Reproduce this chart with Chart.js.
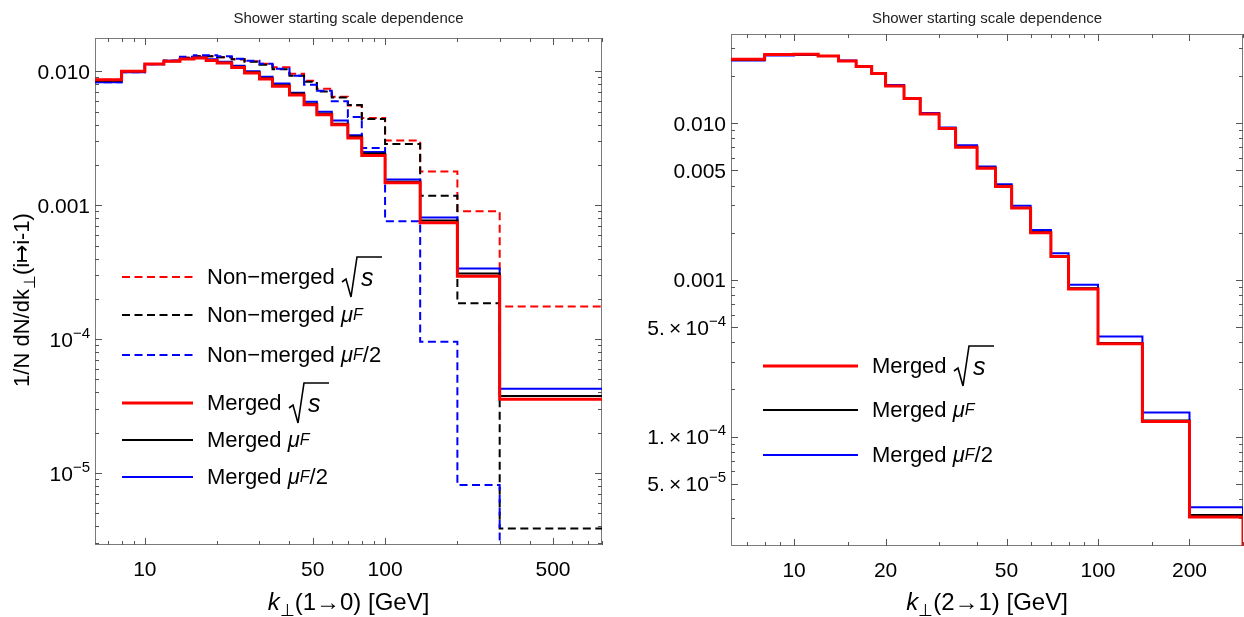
<!DOCTYPE html>
<html>
<head>
<meta charset="utf-8">
<script src="https://cdn.jsdelivr.net/npm/chart.js@4.4.1/dist/chart.umd.min.js"></script>
<style>
  body { margin: 0; background: #fff; width: 1244px; height: 617px; overflow: hidden; position: relative;
         font-family: "Liberation Sans", Arial, sans-serif; }
  canvas { position: absolute; top: 0; }
  .row { position: absolute; display: flex; align-items: center; height: 44px; white-space: nowrap;
         font-size: 22px; color: #000; }
  .row sub { font-size: 16px; vertical-align: -5px; }
  .row svg { display: block; }
</style>
</head>
<body>
<canvas id="left" width="622" height="617" style="left:0"></canvas>
<canvas id="right" width="622" height="617" style="left:622px"></canvas>
<div id="legends"></div>
<script>
// bin edges (GeV)
const edgesLeft = [6, 8, 10, 12, 14, 16, 18, 20, 23, 26, 30, 34, 40, 46, 52, 60, 70, 80, 100, 140, 200, 300, 1000];
const edgesRight = [6, 8, 10, 12, 14, 16, 18, 20, 23, 26, 30, 34, 40, 46, 52, 60, 70, 80, 100, 140, 200, 300];

// left panel: k(1->0)
const nonMergedSqrtS = [0.00867, 0.0100, 0.01136, 0.01202, 0.01265, 0.01298, 0.01298, 0.01276, 0.01233, 0.01192, 0.01141,
  0.01075, 0.00961, 0.00852, 0.00743, 0.00647, 0.00555, 0.00448, 0.00304, 0.00179, 0.000902, 0.000175];
const nonMergedMuF = [0.00860, 0.0100, 0.01136, 0.01202, 0.01265, 0.01298, 0.01298, 0.01276, 0.01233, 0.01181, 0.01122,
  0.01038, 0.00929, 0.00838, 0.00706, 0.00637, 0.00560, 0.00441, 0.00287, 0.00118, 0.000185, 0.00000385];
// last bin is empty (below the plot range)
const nonMergedHalfMuF = [0.00828, 0.00986, 0.01132, 0.01202, 0.01287, 0.01321, 0.01321, 0.01298, 0.01244, 0.01202, 0.01141,
  0.01047, 0.00929, 0.00796, 0.00718, 0.00597, 0.00457, 0.00268, 0.00076, 0.0000957, 0.00000813, 1e-9];
const mergedSqrtS = [0.00867, 0.0100, 0.01136, 0.01188, 0.01238, 0.01259, 0.01208, 0.01155, 0.01071, 0.00973, 0.00878,
  0.00773, 0.00667, 0.00564, 0.00475, 0.00400, 0.00318, 0.00235, 0.00147, 0.00074, 0.000295, 0.0000355];
const mergedMuF = [0.00852, 0.0100, 0.01136, 0.01192, 0.01238, 0.01265, 0.01212, 0.01161, 0.01084, 0.00986, 0.00890,
  0.00789, 0.00682, 0.00574, 0.00483, 0.00407, 0.00326, 0.00243, 0.00150, 0.00077, 0.000309, 0.0000376];
const mergedHalfMuF = [0.00828, 0.00986, 0.01132, 0.01202, 0.01244, 0.01276, 0.01233, 0.01181, 0.01103, 0.01003, 0.00913,
  0.00810, 0.00693, 0.00594, 0.00500, 0.00429, 0.00333, 0.00250, 0.00156, 0.00081, 0.000337, 0.0000426];

// right panel: k(2->1)
const mergedSqrtS2 = [0.02561, 0.02741, 0.02756, 0.02688, 0.02498, 0.02297, 0.02073, 0.01730, 0.01435, 0.01146, 0.00924,
  0.00703, 0.00516, 0.00394, 0.00287, 0.00200, 0.00141, 0.000873, 0.000391, 0.0001247, 0.0000306];
const mergedMuF2 = [0.02535, 0.02729, 0.02749, 0.02688, 0.02498, 0.02304, 0.02064, 0.01730, 0.01439, 0.01146, 0.00926,
  0.00706, 0.00519, 0.00398, 0.00288, 0.00202, 0.00142, 0.000883, 0.000395, 0.0001265, 0.0000316];
const mergedHalfMuF2 = [0.02509, 0.02701, 0.02729, 0.02688, 0.02516, 0.02321, 0.02094, 0.01756, 0.01450, 0.01163, 0.00940,
  0.00722, 0.00530, 0.00407, 0.00297, 0.00208, 0.00148, 0.000929, 0.000435, 0.0001423, 0.0000354];

// ticks ('^' starts a superscript)
const xTicksLeft = [10, 50, 100, 500];
const xLabelsLeft = ['10', '50', '100', '500'];
const xMinorLeft = [7, 8, 9, 20, 30, 40, 60, 70, 80, 90, 200, 300, 400, 600, 700, 800];
const yTicksLeft = [0.01, 0.001, 1e-4, 1e-5];
const yLabelsLeft = ['0.010', '0.001', '10^\u22124', '10^\u22125'];
const xTicksRight = [10, 20, 50, 100, 200];
const xLabelsRight = ['10', '20', '50', '100', '200'];
const xMinorRight = [7, 8, 9, 15, 30, 40, 60, 70, 80, 90, 150, 300];
const yTicksRight = [0.01, 0.005, 0.001, 5e-4, 1e-4, 5e-5];
const yLabelsRight = ['0.010', '0.005', '0.001', '5.\u2009\u00D7\u200910^\u22124', '1.\u2009\u00D7\u200910^\u22124', '5.\u2009\u00D7\u200910^\u22125'];

const FONT = '"Liberation Sans", Arial, sans-serif';
const TITLE = 'Shower starting scale dependence';

function minorLog(lo, hi, skip) {
  const out = [];
  for (let e = -7; e <= 0; e++) {
    for (let m = 2; m <= 9; m++) {
      const v = m * Math.pow(10, e);
      if (v > lo && v < hi && !skip.some(s => Math.abs(s / v - 1) < 1e-6)) out.push(v);
    }
  }
  return out;
}

function steps(edges, vals, closeEnd) {
  const pts = vals.map((v, i) => ({ x: edges[i], y: v }));
  pts.push({ x: edges[vals.length], y: vals[vals.length - 1] });
  if (closeEnd) pts.push({ x: edges[vals.length], y: 1e-9 });
  return pts;
}

function ds(edges, vals, color, width, dashed, closeEnd) {
  return {
    data: steps(edges, vals, closeEnd),
    borderColor: color,
    borderWidth: width,
    borderDash: dashed ? [8, 4.5] : [],
    stepped: 'before',
    pointRadius: 0,
    fill: false,
  };
}

function parseLabel(s) {
  const [b, sup] = s.split('^');
  const parts = [{ t: b }];
  if (sup) parts.push({ t: sup, sup: true });
  return parts;
}

// draws text pieces (italic / subscript / superscript) centred vertically on cy
function richText(ctx, parts, x, cy, size, opt = {}) {
  ctx.save();
  ctx.translate(x, cy);
  if (opt.rot) ctx.rotate(opt.rot);
  const f = p => (p.i ? 'italic ' : '') + ((p.sub || p.sup) ? Math.round(size * 0.72) : size) + 'px ' + FONT;
  let w = 0;
  parts.forEach(p => { ctx.font = f(p); p.w = ctx.measureText(p.t).width; w += p.w; });
  let px = opt.align === 'right' ? -w : opt.align === 'left' ? 0 : -w / 2;
  ctx.fillStyle = opt.color || '#000';
  ctx.textBaseline = 'alphabetic';
  parts.forEach(p => {
    ctx.font = f(p);
    const dy = p.sub ? size * 0.28 : p.sup ? -size * 0.42 : 0;
    ctx.fillText(p.t, px, size * 0.36 + dy);
    px += p.w;
  });
  ctx.restore();
}

const frame = {
  id: 'frame',
  beforeDatasetsDraw(chart, args, o) {
    const { ctx, chartArea: a, scales } = chart;
    ctx.save();
    ctx.strokeStyle = '#7a7a7a';
    ctx.lineWidth = 1;
    ctx.strokeRect(Math.round(a.left) + 0.5, Math.round(a.top) + 0.5,
      Math.round(a.right - a.left) - 1, Math.round(a.bottom - a.top) - 1);
    ctx.strokeStyle = '#555';
    ctx.beginPath();
    const tx = (vals, len) => vals.forEach(v => {
      const p = Math.round(scales.x.getPixelForValue(v)) + 0.5;
      ctx.moveTo(p, a.bottom); ctx.lineTo(p, a.bottom - len);
      ctx.moveTo(p, a.top); ctx.lineTo(p, a.top + len);
    });
    const ty = (vals, len) => vals.forEach(v => {
      const p = Math.round(scales.y.getPixelForValue(v)) + 0.5;
      ctx.moveTo(a.left, p); ctx.lineTo(a.left + len, p);
      ctx.moveTo(a.right, p); ctx.lineTo(a.right - len, p);
    });
    tx(o.xMajor, 7); tx(o.xMinor, 4);
    ty(o.yMajor, 7); ty(o.yMinor, 4);
    ctx.stroke();
    ctx.restore();
  },
  afterDraw(chart, args, o) {
    const { ctx, chartArea: a, scales } = chart;
    const cx = (a.left + a.right) / 2;
    richText(ctx, [{ t: TITLE }], cx, 18, 15, { color: '#222' });
    o.xMajor.forEach((v, i) => richText(ctx, parseLabel(o.xLabels[i]), scales.x.getPixelForValue(v), a.bottom + 23, 21));
    o.yMajor.forEach((v, i) => richText(ctx, parseLabel(o.yLabels[i]), a.left - 5, scales.y.getPixelForValue(v), 21, { align: 'right' }));
    richText(ctx, o.xTitle, cx, 601, 24);
    if (o.yTitle) richText(ctx, o.yTitle, 21, 300, 22, { rot: -Math.PI / 2 });
  }
};

function makeChart(id, c) {
  return new Chart(document.getElementById(id), {
    type: 'line',
    data: { datasets: c.datasets },
    options: {
      responsive: false,
      animation: false,
      events: [],
      layout: { padding: { left: 0, right: c.padRight, top: c.top, bottom: 0 }, autoPadding: false },
      plugins: {
        legend: { display: false },
        tooltip: { enabled: false },
        title: { display: false },
        frame: c.frame
      },
      scales: {
        x: {
          type: 'logarithmic', min: c.xMin, max: c.xMax,
          grid: { display: false, drawTicks: false }, border: { display: false },
          ticks: { display: false },
          afterFit: s => { s.height = c.xAxisH; }
        },
        y: {
          type: 'logarithmic', min: c.yMin, max: c.yMax,
          grid: { display: false, drawTicks: false }, border: { display: false },
          ticks: { display: false },
          afterFit: s => { s.width = c.yAxisW; }
        }
      }
    },
    plugins: [frame]
  });
}

const RED = '#ff0000', BLACK = '#000000', BLUE = '#0000ff';

makeChart('left', {
  datasets: [
    ds(edgesLeft, mergedSqrtS, RED, 3, false),
    ds(edgesLeft, mergedMuF, BLACK, 2, false),
    ds(edgesLeft, mergedHalfMuF, BLUE, 2, false),
    ds(edgesLeft, nonMergedHalfMuF, BLUE, 2, true),
    ds(edgesLeft, nonMergedMuF, BLACK, 2, true),
    ds(edgesLeft, nonMergedSqrtS, RED, 2, true),
  ],
  xMin: 6.2, xMax: 800, yMin: 2.9e-6, yMax: 0.01775,
  padRight: 20, top: 38, xAxisH: 72, yAxisW: 95,
  frame: {
    xMajor: xTicksLeft, xLabels: xLabelsLeft, xMinor: xMinorLeft,
    yMajor: yTicksLeft, yLabels: yLabelsLeft, yMinor: minorLog(2.9e-6, 0.01775, yTicksLeft),
    xTitle: [{ t: 'k', i: true }, { t: '\u22A5', sub: true }, { t: '(1\u21920) [GeV]' }],
    yTitle: [{ t: '1/N dN/dk' }, { t: '\u22A5', sub: true }, { t: '(i\u21A6i-1)' }]
  }
});

makeChart('right', {
  datasets: [
    ds(edgesRight, mergedSqrtS2, RED, 3, false, true),
    ds(edgesRight, mergedMuF2, BLACK, 2, false, true),
    ds(edgesRight, mergedHalfMuF2, BLUE, 2, false, true),
  ],
  xMin: 6.2, xMax: 300, yMin: 2.0e-5, yMax: 0.0371,
  padRight: 1, top: 34, xAxisH: 71, yAxisW: 109,
  frame: {
    xMajor: xTicksRight, xLabels: xLabelsRight, xMinor: xMinorRight,
    yMajor: yTicksRight, yLabels: yLabelsRight, yMinor: minorLog(2.0e-5, 0.0371, yTicksRight),
    xTitle: [{ t: 'k', i: true }, { t: '\u22A5', sub: true }, { t: '(2\u21921) [GeV]' }]
  }
});

// legends (HTML, so the radical and subscripts render as text)
const radical = '<svg width="42" height="44" viewBox="0 0 42 44" style="margin-left:6px">' +
  '<path d="M1 27 L5 24 L10 42 L16 2 L41 2" stroke="#000" stroke-width="1.6" fill="none"/>' +
  '<text x="20" y="31" font-family="Liberation Sans, Arial" font-style="italic" font-size="25">s</text></svg>';
const muF = '&nbsp;<i>\u03BC</i><sub><i>F</i></sub>';
const legendLeft = [
  { name: 'Non\u2212merged', sym: radical, color: RED, dash: true, y: 277 },
  { name: 'Non\u2212merged', sym: muF, color: BLACK, dash: true, y: 315 },
  { name: 'Non\u2212merged', sym: muF + '/2', color: BLUE, dash: true, y: 355 },
  { name: 'Merged', sym: radical, color: RED, dash: false, y: 403 },
  { name: 'Merged', sym: muF, color: BLACK, dash: false, y: 440 },
  { name: 'Merged', sym: muF + '/2', color: BLUE, dash: false, y: 477 },
];
const legendRight = [
  { name: 'Merged', sym: radical, color: RED, dash: false, y: 366 },
  { name: 'Merged', sym: muF, color: BLACK, dash: false, y: 410 },
  { name: 'Merged', sym: muF + '/2', color: BLUE, dash: false, y: 455 },
];
function legendRows(items, x, len) {
  return items.map(it => {
    const w = it.color === RED && !it.dash ? 3 : 2;
    const line = '<svg width="' + len + '" height="6"><line x1="0" y1="3" x2="' + len + '" y2="3" stroke="' + it.color +
      '" stroke-width="' + w + '"' + (it.dash ? ' stroke-dasharray="8 4.5"' : '') + '/></svg>';
    return '<div class="row" style="left:' + x + 'px;top:' + (it.y - 22) + 'px">' + line +
      '<span style="margin-left:14px">' + it.name + '</span>' + it.sym + '</div>';
  }).join('');
}
document.getElementById('legends').innerHTML = legendRows(legendLeft, 122, 71) + legendRows(legendRight, 763, 95);
</script>
</body>
</html>
